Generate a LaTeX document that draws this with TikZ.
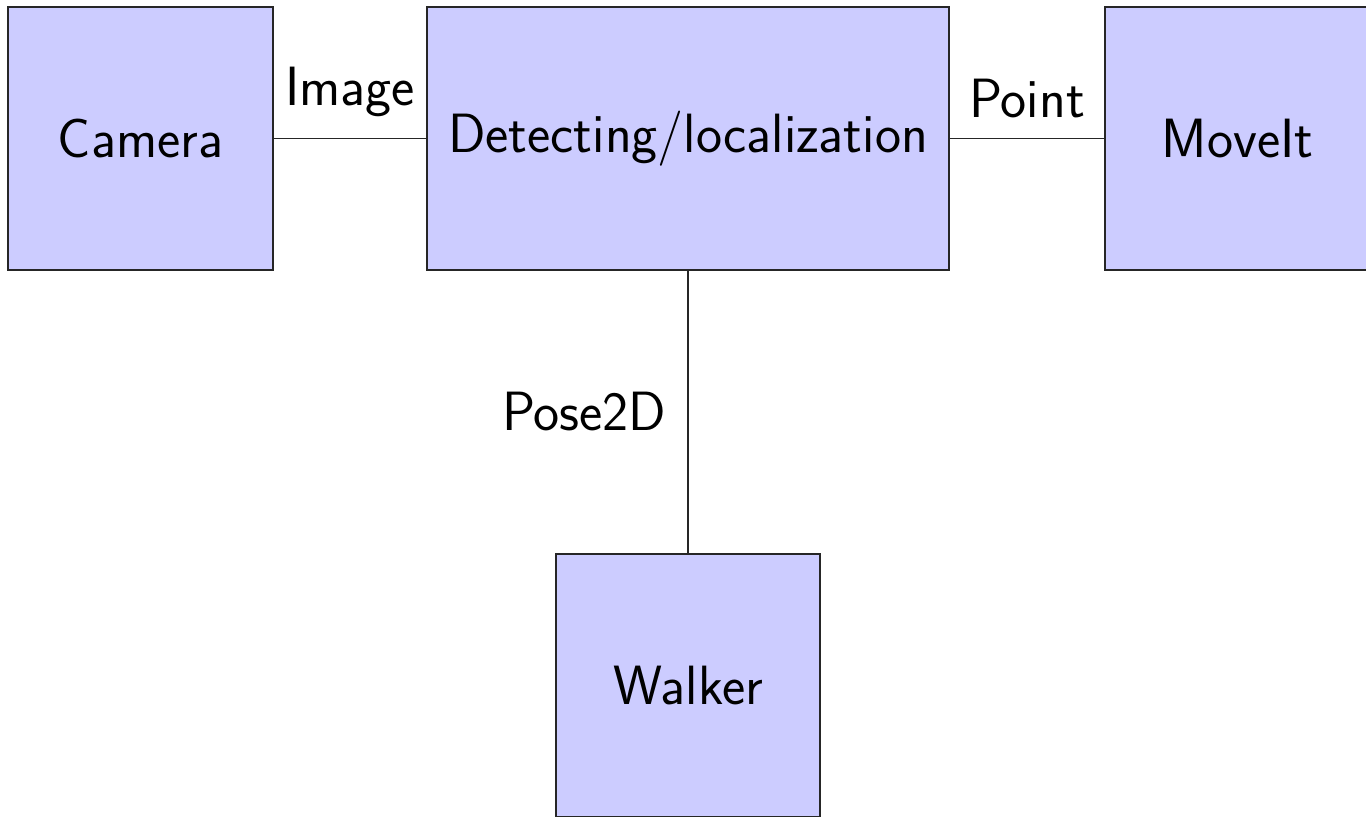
\documentclass[tikz,border=0pt]{standalone}
\usepackage{fontspec}
\begin{document}
\begin{tikzpicture}[x=0.02cm,y=-0.02cm,
  block/.style={draw=black!85, fill=blue!20, line width=0.7pt,
    minimum height=5.26cm, inner sep=0pt, font=\sffamily\fontsize{31.5}{38}\selectfont},
  link/.style={draw=black!85, line width=0.7pt},
  lbl/.style={font=\sffamily\fontsize{31.5}{38}\selectfont, inner sep=0pt}]
\useasboundingbox (0,0) rectangle (1366,817);
\node[block, minimum width=5.3cm]  (cam)  at (140.5,138.5) {Camera};
\node[block, minimum width=10.44cm] (det) at (688,138.5) {Detecting/localization};
\node[block, minimum width=5.3cm]  (move) at (1237.5,138.5) {MoveIt};
\node[block, minimum width=5.28cm] (walk) at (688,685.5) {Walker};
\draw[link] (cam) -- node[lbl, above=0.42cm] (limg) {Image} (det);
\draw[link] (det) -- node[lbl, above=0.4cm] (lpt) {Point} (move);
\draw[link] (det) -- node[lbl, left=0.42cm] (lpose) {Pose2D} (walk);
\end{tikzpicture}
\end{document}
